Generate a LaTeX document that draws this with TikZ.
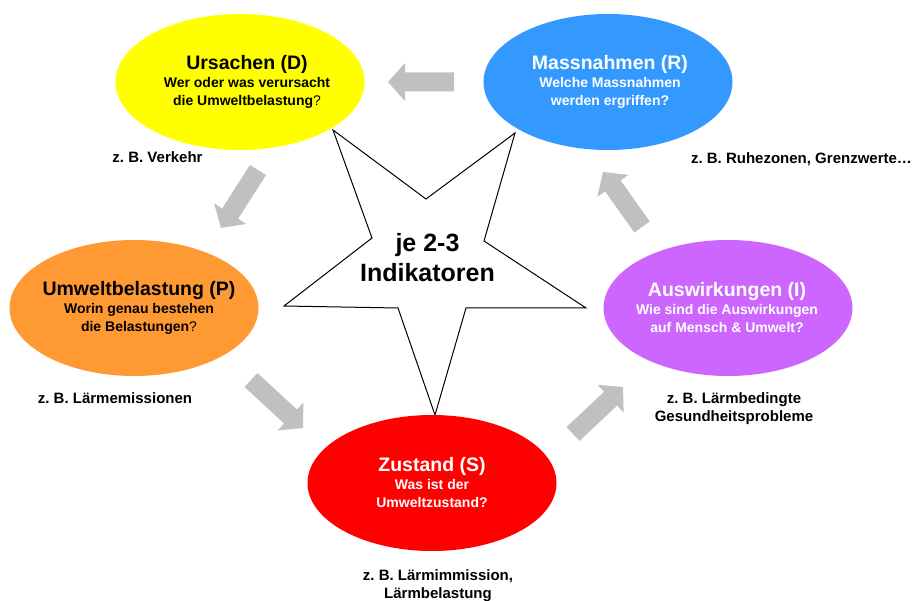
\documentclass[tikz,border=0pt]{standalone}
\usepackage{fontspec}
\setmainfont{Liberation Sans}
\usetikzlibrary{shapes.geometric,calc}
\frenchspacing

\definecolor{causeY}{RGB}{255,255,0}
\definecolor{measB}{RGB}{51,153,255}
\definecolor{pressO}{RGB}{255,153,51}
\definecolor{impP}{RGB}{204,102,255}
\definecolor{stateR}{RGB}{255,0,0}
\definecolor{flowG}{RGB}{192,192,192}

% grey block arrow from tail #1 to tip #2
\newcommand\flowarrow[2]{%
  \path ($(#2)!17pt!(#1)$) coordinate (#2-hd);
  \fill[flowG] ($(#1)!9.5pt!90:(#2)$) -- ($(#2-hd)!9.5pt!90:(#2)$)
    -- ($(#2-hd)!19pt!90:(#2)$) -- (#2)
    -- ($(#2-hd)!19pt!-90:(#2)$) -- ($(#2-hd)!9.5pt!-90:(#2)$)
    -- ($(#1)!9.5pt!-90:(#2)$) -- cycle;}

\tikzset{
  blob/.style={ellipse, minimum width=249pt, minimum height=136pt,
    inner sep=0pt, draw=none, fill=#1},
  blobtext/.style={align=center, inner sep=0pt, text=#1,
    font=\bfseries\fontsize{14}{18}\selectfont},
  example/.style={align=center, inner sep=0pt,
    font=\bfseries\fontsize{15}{18.3}\selectfont},
}
\newcommand\ttlfont{\fontsize{19.5}{18}\selectfont}

\begin{document}
\begin{tikzpicture}[x=1pt,y=-1pt]
\useasboundingbox (0,0) rectangle (916,601);

% central star
\draw[fill=white, line width=1pt, line join=miter]
  (333,130) -- (426,199) -- (515,133) -- (484,241) -- (586,308)
  -- (466,308) -- (435,415) -- (398,308) -- (284,306) -- (372,238) -- cycle;
\node[align=center, inner sep=0pt, font=\bfseries\fontsize{25}{30}\selectfont]
  (core) at (427.5,258) {je 2-3\\Indikatoren};

% the five ellipses
\node[blob=causeY]  (cause)  at (240,82)  {};
\node[blob=measB]   (resp)   at (608,82)  {};
\node[blob=pressO]  (press)  at (134,308) {};
\node[blob=impP]    (impact) at (728,308) {};
\node[blob=stateR]  (state)  at (432,483) {};

\node[blobtext=black] (causeT) at (247,82)
  {{\ttlfont Ursachen (D)}\\Wer oder was verursacht\\die Umweltbelastung{\mdseries ?}};
\node[blobtext=white] (respT) at (610,82)
  {{\ttlfont Massnahmen (R)}\\Welche Massnahmen\\werden ergriffen?};
\node[blobtext=black] (pressT) at (139,308)
  {{\ttlfont Umweltbelastung (P)}\\Worin genau bestehen\\die Belastungen{\mdseries ?}};
\node[blobtext=white] (impactT) at (727,308)
  {{\ttlfont Auswirkungen (I)}\\Wie sind die Auswirkungen\\auf Mensch \& Umwelt?};
\node[blobtext=white] (stateT) at (432,483)
  {{\ttlfont Zustand (S)}\\Was ist der\\Umweltzustand?};

% examples
\node[example, anchor=base] (exC) at (157.5,163) {z. B. Verkehr};
\node[example, anchor=base] (exR) at (801.5,163.3) {z. B. Ruhezonen, Grenzwerte…};
\node[example, anchor=base] (exP) at (115,403.3) {z. B. Lärmemissionen};
\node[example] (exI) at (734,408.6) {z. B. Lärmbedingte\\Gesundheitsprobleme};
\node[example] (exS) at (438,586) {z. B. Lärmimmission,\\Lärmbelastung};

% cycle arrows
\coordinate (a1s) at (454,82);  \coordinate (a1e) at (388,82);
\coordinate (a2s) at (258,170); \coordinate (a2e) at (221,228);
\coordinate (a3s) at (251,380); \coordinate (a3e) at (303,428);
\coordinate (a4s) at (573,434); \coordinate (a4e) at (623,387);
\coordinate (a5s) at (642,227); \coordinate (a5e) at (603,172);
\flowarrow{a1s}{a1e}
\flowarrow{a2s}{a2e}
\flowarrow{a3s}{a3e}
\flowarrow{a4s}{a4e}
\flowarrow{a5s}{a5e}
\end{tikzpicture}
\end{document}
